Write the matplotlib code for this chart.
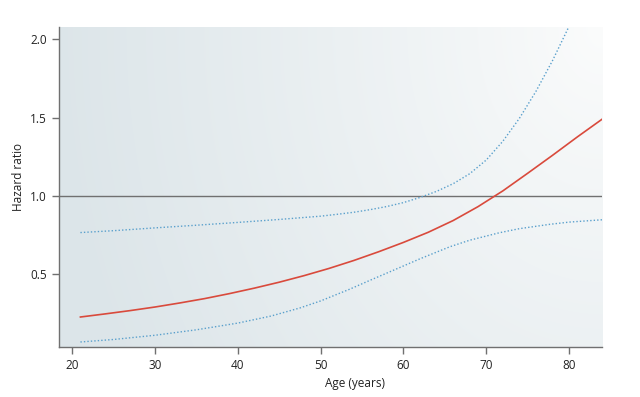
import numpy as np
import matplotlib
matplotlib.use("Agg")
import matplotlib.pyplot as plt

# Data
age_hr = [21, 24, 27, 30, 33, 36, 39, 42, 45, 48, 51, 54, 57, 60, 63, 66, 69, 72, 75, 78, 81, 84]
hr     = [0.222, 0.242, 0.263, 0.286, 0.312, 0.34, 0.372, 0.407, 0.445, 0.487, 0.533, 0.584,
          0.64, 0.70, 0.765, 0.84, 0.929, 1.03, 1.143, 1.258, 1.376, 1.49]

age_up = [21, 25, 30, 35, 40, 45, 50, 52, 54, 56, 58, 60, 62, 64, 66, 68, 70, 72, 74, 76, 78, 80, 81]
upper  = [0.763, 0.775, 0.793, 0.81, 0.828, 0.847, 0.868, 0.88, 0.893, 0.91, 0.93, 0.955, 0.988,
          1.027, 1.076, 1.14, 1.228, 1.348, 1.495, 1.668, 1.865, 2.085, 2.2]

age_lo = [21, 25, 30, 35, 40, 44, 47.5, 50, 53.5, 56, 59.6, 62, 65.6, 68, 71.6, 74, 77.7, 80, 84]
lower  = [0.062, 0.078, 0.105, 0.14, 0.183, 0.228, 0.28, 0.325, 0.4, 0.458, 0.54, 0.595,
          0.672, 0.714, 0.762, 0.788, 0.816, 0.83, 0.845]

xticks = [20, 30, 40, 50, 60, 70, 80]
yticks = [0.5, 1.0, 1.5, 2.0]

plt.rcParams['font.family'] = ['Open Sans', 'DejaVu Sans']

fig = plt.figure(figsize=(6.4, 3.97), dpi=100)
ax = fig.add_axes([0.092, 0.126, 0.849, 0.806])
xlim = (18.4, 84.0)
ylim = (0.03, 2.08)
ax.set_xlim(*xlim)
ax.set_ylim(*ylim)

# gradient background (light at top-right, blue-grey towards left)
ny, nx = 200, 400
xx, yy = np.meshgrid(np.linspace(0, 1, nx), np.linspace(0, 1, ny))  # yy=1 at top (origin lower)
d = np.sqrt(((1 - xx) * 1.0) ** 2 + ((1 - yy) * 0.45) ** 2)
t = np.clip(d / 1.0, 0, 1) ** 0.9
c_light = np.array([0.985, 0.988, 0.988])
c_dark = np.array([0.865, 0.9, 0.915])
img = c_light[None, None, :] * (1 - t[..., None]) + c_dark[None, None, :] * t[..., None]
ax.imshow(img, extent=[xlim[0], xlim[1], ylim[0], ylim[1]], origin='lower',
          aspect='auto', zorder=0, interpolation='bilinear')

ax.axhline(1.0, color='#707070', lw=1.0, zorder=1)
ax.plot(age_up, upper, color='#5aa0cc', lw=1.0, ls=(0, (1, 1.5)), zorder=2)
ax.plot(age_lo, lower, color='#5aa0cc', lw=1.0, ls=(0, (1, 1.5)), zorder=2)
ax.plot(age_hr, hr, color='#d94a3c', lw=1.2, zorder=3)

for s in ['top', 'right']:
    ax.spines[s].set_visible(False)
for s in ['left', 'bottom']:
    ax.spines[s].set_color('#707070')
    ax.spines[s].set_linewidth(1.0)

ax.set_xticks(xticks)
ax.set_yticks(yticks)
ax.set_yticklabels([f"{v:.1f}" for v in yticks])
ax.tick_params(axis='both', colors='#707070', labelcolor='#222222', labelsize=8.5,
               length=5, width=1.0, direction='out')
ax.set_xlabel('Age (years)', fontsize=8.5, color='#222222')
ax.xaxis.set_label_coords(0.545, -0.095)
ax.set_ylabel('Hazard ratio', fontsize=8.5, color='#222222')
ax.yaxis.set_label_coords(-0.062, 0.53)

fig.savefig('out.png', dpi=100)
